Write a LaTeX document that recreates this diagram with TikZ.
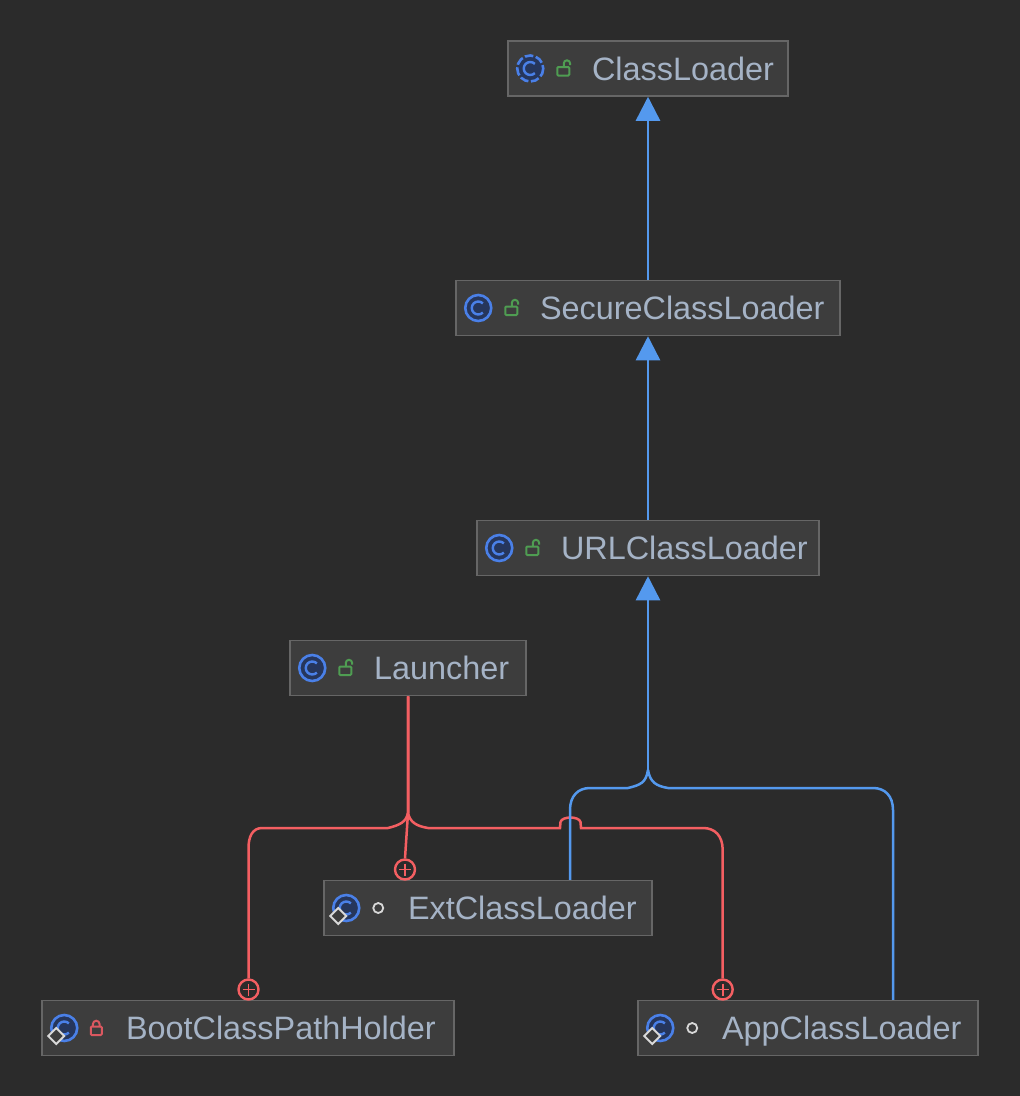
\documentclass[tikz,border=0pt]{standalone}
\usepackage{fontspec}
\setmainfont{Liberation Sans}
\usetikzlibrary{arrows.meta,calc}
\definecolor{bgc}{HTML}{2B2B2B}
\definecolor{boxfill}{HTML}{3D3D3D}
\definecolor{boxline}{HTML}{666666}
\definecolor{labelc}{HTML}{A5B3C6}
\definecolor{redc}{HTML}{F45F62}
\definecolor{bluec}{HTML}{5499EE}
\definecolor{iconblue}{HTML}{4A80E8}
\definecolor{iconfill}{HTML}{26365C}
\definecolor{lockg}{HTML}{4F9D52}
\definecolor{lockr}{HTML}{DB5860}
\definecolor{markc}{HTML}{D8D8D8}
\newcommand{\boxtext}[2]{\makebox[#1pt][l]{\hspace*{84pt}\raisebox{-11.5pt}[0pt][0pt]{\fontsize{32.4}{36}\selectfont #2}}}
\newcommand{\classicon}[2][]{%
  \draw[iconblue,line width=2.6pt,fill=iconfill,#1] ($(#2.west)+(23,0)$) circle (13);
  \draw[iconblue,line width=2.4pt] ($(#2.west)+(23,0)+(45:6.5)$) arc (45:315:6.5);}
\newcommand{\openlock}[1]{%
  \draw[lockg,line width=2pt,rounded corners=1pt] ($(#1.west)+(50,-1.5)$) rectangle ($(#1.west)+(62,7)$);
  \draw[lockg,line width=2pt] ($(#1.west)+(56.5,-1.5)$) -- ($(#1.west)+(56.5,-5)$) arc (180:360:3.2) -- ($(#1.west)+(62.9,-3.5)$);}
\newcommand{\closedlock}[1]{%
  \draw[lockr,line width=2pt,rounded corners=1pt] ($(#1.west)+(49.5,-1.5)$) rectangle ($(#1.west)+(60.5,7)$);
  \draw[lockr,line width=2pt] ($(#1.west)+(51.7,-1.5)$) -- ($(#1.west)+(51.7,-4)$) arc (180:360:3.3) -- ($(#1.west)+(58.3,-1.5)$);}
\newcommand{\packagedot}[1]{%
  \draw[markc,line width=1.8pt] ($(#1.west)+(55,0)$) circle (5);}
\newcommand{\nesteddiamond}[1]{%
  \draw[markc,line width=1.8pt,fill=boxfill] ($(#1.west)+(7,8)$) -- ++(8,-8) -- ++(8,8) -- ++(-8,8) -- cycle;}
\tikzset{
  classbox/.style={draw=boxline,fill=boxfill,line width=1.5pt,inner sep=0pt,minimum height=55pt,text=labelc},
  implicit/.style={bluec,line width=2.5pt},
  nested/.style={redc,line width=2.5pt},
  inherit/.style={implicit,-{Triangle[length=24pt,width=24pt,fill=bluec]}},
  plusmark/.style={circle,draw=redc,line width=2.4pt,inner sep=0pt,minimum size=20pt,
    path picture={\draw[redc,line width=1.8pt] (path picture bounding box.center) ++(-6,0) -- ++(12,0) ++(-6,-6) -- ++(0,12);}},
}
\begin{document}
\begin{tikzpicture}[x=1pt,y=-1pt]
\fill[bgc] (0,0) rectangle (1020,1096);
\useasboundingbox (0,0) rectangle (1020,1096);
% boxes
\node[classbox] (cl) at (648,68.5) {\boxtext{280}{ClassLoader}};
\node[classbox] (scl) at (648,308) {\boxtext{384}{SecureClassLoader}};
\node[classbox] (url) at (648,548) {\boxtext{342}{URLClassLoader}};
\node[classbox] (launcher) at (408,668) {\boxtext{236}{Launcher}};
\node[classbox] (ext) at (488,908) {\boxtext{328}{ExtClassLoader}};
\node[classbox] (boot) at (248,1028) {\boxtext{412}{BootClassPathHolder}};
\node[classbox] (app) at (808,1028) {\boxtext{340}{AppClassLoader}};
% plus marks
\node[plusmark] (pext) at (405,869.5) {};
\node[plusmark] (pboot) at (248.5,989.5) {};
\node[plusmark] (papp) at (722.7,989.5) {};
% nested connectors
\draw[nested] (launcher.south) -- (408,813) .. controls (406,822) and (400,825) .. (388,828) -- (262,828)
  .. controls (253,828) and (248,836) .. (248.5,850) -- (pboot.north);
\draw[nested] (launcher.south) -- (408,813) -- (pext.north);
\draw[nested] (launcher.south) -- (408,813) .. controls (410,822) and (416,826) .. (428,828) -- (560,828) -- (560.5,822)
  .. controls (562,816) and (579,816) .. (580.5,822) -- (581,828) -- (703,828)
  .. controls (715,828) and (722.7,836) .. (722.7,850) -- (papp.north);
% inheritance connectors
\draw[inherit] (scl.north) -- (cl.south);
\draw[inherit] (url.north) -- (scl.south);
\draw[implicit] (570,0 |- ext.north) -- (570,810) .. controls (570,796) and (578,788) .. (590,788) -- (628,788)
  .. controls (640,785) and (646,783) .. (648,770);
\draw[implicit] (893,0 |- app.north) -- (893,810) .. controls (893,796) and (885,788) .. (873,788) -- (668,788)
  .. controls (656,786) and (650,782) .. (648,770);
\draw[inherit] (648,772) -- (url.south);
% icons
\classicon[dash pattern=on 8.5pt off 2.6pt]{cl}\openlock{cl}
\classicon{scl}\openlock{scl}
\classicon{url}\openlock{url}
\classicon{launcher}\openlock{launcher}
\classicon{ext}\nesteddiamond{ext}\packagedot{ext}
\classicon{boot}\nesteddiamond{boot}\closedlock{boot}
\classicon{app}\nesteddiamond{app}\packagedot{app}
\end{tikzpicture}
\end{document}
